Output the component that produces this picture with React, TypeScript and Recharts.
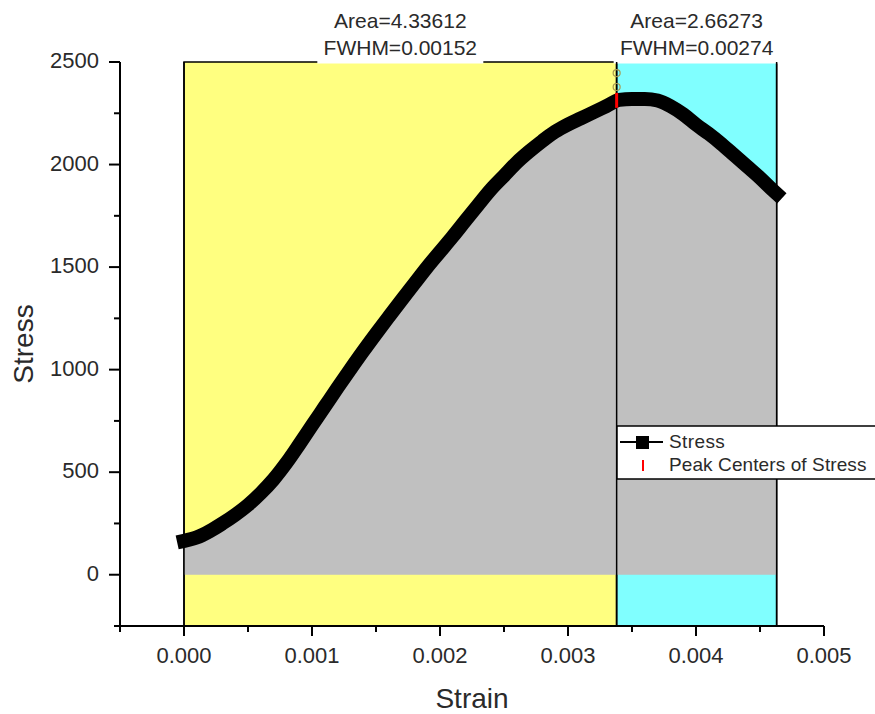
import React from 'react';
import {
  ComposedChart,
  Area,
  Line,
  Scatter,
  XAxis,
  YAxis,
  ReferenceArea,
  ReferenceLine,
  ReferenceDot,
} from 'recharts';

const strainValues = [
  0, 0.0001, 0.0002, 0.0003, 0.0004, 0.0005, 0.0006, 0.0007, 0.0008, 0.0009,
  0.001, 0.0011, 0.0012, 0.0013, 0.0014, 0.0015, 0.0016, 0.0017, 0.0018, 0.0019,
  0.002, 0.0021, 0.0022, 0.0023, 0.0024, 0.0025, 0.0026, 0.0027, 0.0028, 0.0029,
  0.003, 0.0031, 0.0032, 0.0033, 0.0034, 0.0035, 0.0036, 0.0037, 0.0038, 0.0039,
  0.004, 0.0041, 0.0042, 0.0043, 0.0044, 0.0045, 0.0046, 0.00463,
];
const stressValues = [
  165, 182, 212, 250, 292, 340, 398, 465, 545, 635,
  728, 820, 912, 1002, 1090, 1175, 1258, 1340, 1420, 1500,
  1575, 1650, 1728, 1805, 1880, 1945, 2010, 2065, 2115, 2160,
  2195, 2225, 2255, 2285, 2315, 2320, 2320, 2312, 2285, 2245,
  2195, 2150, 2100, 2045, 1990, 1935, 1875, 1858,
];

const xTicks = [-0.0005, 0, 0.0005, 0.001, 0.0015, 0.002, 0.0025, 0.003, 0.0035, 0.004, 0.0045, 0.005];
const yTicks = [-250, 0, 250, 500, 750, 1000, 1250, 1500, 1750, 2000, 2250, 2500];

const regionStarts = [0, 0.00338];
const regionEnds = [0.00338, 0.00463];
const regionColors = ['#FFFF80', '#80FFFF'];
const regionAreas = ['4.33612', '2.66273'];
const regionFwhm = ['0.00152', '0.00274'];

const peakCenterStrain = [0.00338];
const peakCenterStress = [2313];

const data = strainValues.map((s, i) => ({ strain: s, stress: stressValues[i] }));
const peakData = peakCenterStrain.map((s, i) => ({ strain: s, stress: peakCenterStress[i] }));

const FONT = '"Liberation Sans", Arial, sans-serif';
const TEXT = '#2a2a2a';

const XTick = (props: any) => {
  const { x, y, payload } = props;
  const v = payload.value;
  const major = Math.abs(v * 1000 - Math.round(v * 1000)) < 1e-6;
  return (
    <g>
      <line x1={x} x2={x} y1={y} y2={y + (major ? 10 : 6)} stroke="#000" strokeWidth={2} />
      {major && (
        <text x={x} y={y + 37} textAnchor="middle" fontSize={22} fontFamily={FONT} fill={TEXT}>
          {v.toFixed(3)}
        </text>
      )}
    </g>
  );
};

const YTick = (props: any) => {
  const { x, y, payload } = props;
  const v = payload.value;
  const major = v % 500 === 0;
  return (
    <g>
      <line x1={x} x2={x - (major ? 11 : 6)} y1={y} y2={y} stroke="#000" strokeWidth={2} />
      {major && (
        <text x={x - 21} y={y + 6} textAnchor="end" fontSize={22} fontFamily={FONT} fill={TEXT}>
          {v}
        </text>
      )}
    </g>
  );
};

const RegionLabel = (props: any) => {
  const { viewBox, area, fwhm } = props;
  if (!viewBox) return null;
  const cx = viewBox.x + viewBox.width / 2;
  const top = viewBox.y;
  return (
    <g>
      <rect x={cx - 83} y={top - 58} width={166} height={59.5} fill="#fff" />
      <text x={cx} y={top - 34} textAnchor="middle" fontSize={21} fontFamily={FONT} fill={TEXT}>
        {`Area=${area}`}
      </text>
      <text x={cx} y={top - 7} textAnchor="middle" fontSize={21} fontFamily={FONT} fill={TEXT}>
        {`FWHM=${fwhm}`}
      </text>
    </g>
  );
};

const PeakShape = (props: any) => {
  const { cx, cy } = props;
  return <line x1={cx} x2={cx} y1={cy - 7.5} y2={cy + 7.5} stroke="#FF0000" strokeWidth={3} />;
};

export default function App() {
  return (
    <div style={{ position: 'absolute', left: 0, top: 0, width: 875, height: 714, overflow: 'hidden', background: '#fff' }}>
      <ComposedChart
        width={875}
        height={714}
        data={data}
        margin={{ top: 62, right: 51, left: 0, bottom: 0 }}
      >
        <XAxis
          dataKey="strain"
          type="number"
          domain={[-0.0005, 0.005]}
          ticks={xTicks}
          interval={0}
          tickSize={0}
          tickMargin={0}
          tick={<XTick />}
          axisLine={{ stroke: '#000', strokeWidth: 2 }}
          height={88}
          allowDataOverflow
          label={{
            value: 'Strain',
            position: 'insideBottom',
            offset: 6,
            style: { fontSize: 28, fontFamily: FONT, fill: TEXT },
          }}
        />
        <YAxis
          type="number"
          domain={[-250, 2500]}
          ticks={yTicks}
          interval={0}
          tickSize={0}
          tickMargin={0}
          tick={<YTick />}
          axisLine={{ stroke: '#000', strokeWidth: 2 }}
          width={120}
          allowDataOverflow
          label={{
            content: (p: any) => {
              const vb = p.viewBox;
              const lx = vb.x + 33;
              const ly = vb.y + vb.height / 2;
              return (
                <text
                  x={lx}
                  y={ly}
                  transform={`rotate(-90, ${lx}, ${ly})`}
                  textAnchor="middle"
                  fontSize={28}
                  fontFamily={FONT}
                  fill={TEXT}
                >
                  Stress
                </text>
              );
            },
          }}
        />
        {regionStarts.map((x1, i) => (
          <ReferenceArea
            key={`r${i}`}
            x1={x1}
            x2={regionEnds[i]}
            y1={-250}
            y2={2500}
            fill={regionColors[i]}
            fillOpacity={1}
            stroke="#000"
            strokeWidth={1.5}
            label={<RegionLabel area={regionAreas[i]} fwhm={regionFwhm[i]} />}
          />
        ))}
        <Area
          dataKey="stress"
          type="monotone"
          baseValue={0}
          fill="#C0C0C0"
          fillOpacity={1}
          stroke="none"
          isAnimationActive={false}
        />
        <ReferenceLine x={regionStarts[0]} stroke="#000" strokeWidth={1.5} />
        <ReferenceLine x={regionEnds[0]} stroke="#000" strokeWidth={1.5} />
        <ReferenceLine x={regionEnds[1]} stroke="#000" strokeWidth={1.5} />
        <Line
          dataKey="stress"
          type="monotone"
          stroke="#000"
          strokeWidth={14}
          strokeLinecap="square"
          dot={false}
          activeDot={false}
          isAnimationActive={false}
        />
        <ReferenceDot x={0.00338} y={2446} r={3.5} fill="none" stroke="#A89A50" strokeWidth={1.2} />
        <ReferenceDot x={0.00338} y={2378} r={3.5} fill="none" stroke="#A89A50" strokeWidth={1.2} />
        <Scatter data={peakData} dataKey="stress" shape={<PeakShape />} isAnimationActive={false} />
      </ComposedChart>
      <svg
        width={875}
        height={714}
        style={{ position: 'absolute', left: 0, top: 0, pointerEvents: 'none' }}
      >
        <rect x={617} y={426} width={300} height={53} fill="#fff" stroke="#000" strokeWidth={1.5} />
        <line x1={620} x2={663} y1={442} y2={442} stroke="#000" strokeWidth={2} />
        <rect x={636} y={436} width={13} height={13} fill="#000" />
        <text x={669} y={448} fontSize={19} letterSpacing={0.4} fontFamily={FONT} fill={TEXT}>
          Stress
        </text>
        <line x1={643} x2={643} y1={460} y2={471} stroke="#FF0000" strokeWidth={2} />
        <text x={669} y={471} fontSize={19} letterSpacing={0.1} fontFamily={FONT} fill={TEXT}>
          Peak Centers of Stress
        </text>
      </svg>
    </div>
  );
}
